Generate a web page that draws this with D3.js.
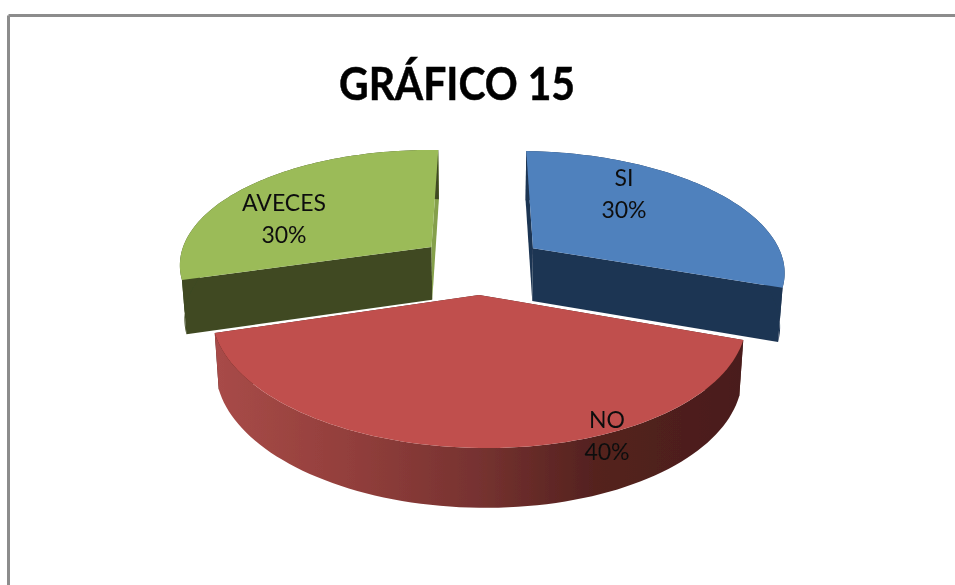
<!DOCTYPE html>
<html>
<head>
<meta charset="utf-8">
<script src="https://cdn.jsdelivr.net/npm/d3@7/dist/d3.min.js"></script>
<style>html,body{margin:0;padding:0;background:#fff}svg{display:block}</style>
</head>
<body>
<svg id="c" width="955" height="585"></svg>
<script>
const chartTitle = "GRÁFICO 15";
const categories = ["SI", "NO", "AVECES"];
const values = [30, 40, 30];
const percentLabels = ["30%", "40%", "30%"];
const topColors = ["#4F81BD", "#C0504D", "#9BBB59"];
const rimColors = ["#1F3552", "url(#redRim)", "#3F4A22"];
const faceColors = ["#1F3552", "#4A1D1B", "#3F4A22"];
const endFaceColors = ["#1F3552", "#4A1D1B", "#85A04C"];
const labelAnchors = [[624, 178], [607, 420], [284, 203]];
const sliceNudge = [3, -1, 1.5];
const paintOrder = [2, 0, 1];

const W = 955, H = 585;
const cx = 480, cy = 264.4, radiusX = 253, radiusY = 117.5, persp = 0.16, depth = 53.5, taper = 0.015, explode = 0.25, tilt = 0.013;

const svg = d3.select("#c");
const defs = svg.append("defs");
const grad = defs.append("linearGradient").attr("id", "redRim")
  .attr("gradientUnits", "userSpaceOnUse").attr("x1", 215).attr("x2", 742).attr("y1", 0).attr("y2", 0);
[[0, "#A84B48"], [0.25, "#933F3C"], [0.5, "#763230"], [0.72, "#54221F"], [1, "#4A1D1B"]]
  .forEach(([o, c]) => grad.append("stop").attr("offset", o).attr("stop-color", c));
defs.append("filter").attr("id", "soft").append("feGaussianBlur").attr("stdDeviation", 0.5);

// window frame: only the top and left edges are in view
const frame = svg.append("g").attr("stroke", "#8C8C8C").attr("stroke-width", 3).attr("filter", "url(#soft)");
frame.append("line").attr("x1", 8.5).attr("x2", W).attr("y1", 15.5).attr("y2", 15.5);
frame.append("line").attr("x1", 8.5).attr("x2", 8.5).attr("y1", 15.5).attr("y2", H);

const pie = d3.pie().sort(null).value(d => d);
const arcs = pie(values);

function project(u, v, h, nudge) {
  const s = 1 / (1 - persp * v);
  const x = radiusX * u * s * (1 - taper * h);
  return [cx + nudge + x, cy + radiusY * v * s + depth * h * Math.sqrt(s) + tilt * x];
}
const line = d3.line();

const plot = svg.append("g").attr("filter", "url(#soft)");

paintOrder.forEach(i => {
  const a = arcs[i];
  const n = sliceNudge[i];
  const mid = (a.startAngle + a.endAngle) / 2;
  const ou = explode * Math.sin(mid), ov = -explode * Math.cos(mid);
  const rim = h => d3.range(0, 81).map(k => {
    const t = a.startAngle + (a.endAngle - a.startAngle) * k / 80;
    return project(ou + Math.sin(t), ov - Math.cos(t), h, n);
  });
  const apex = h => project(ou, ov, h, n);
  const top = rim(0), bottom = rim(1);
  const g = plot.append("g");
  // start and end cut faces
  g.append("path").attr("fill", faceColors[i])
    .attr("d", line([apex(0), top[0], bottom[0], apex(1)]) + "Z");
  g.append("path").attr("fill", endFaceColors[i])
    .attr("d", line([apex(0), top[80], bottom[80], apex(1)]) + "Z");
  // outer rim
  g.append("path").attr("fill", rimColors[i])
    .attr("d", line(top.concat(bottom.slice().reverse())) + "Z");
  // top surface
  g.append("path").attr("fill", topColors[i])
    .attr("d", line([apex(0)].concat(top)) + "Z");
});

const text = svg.append("g").attr("font-family", "Lato, 'Open Sans', sans-serif").attr("fill", "#111").attr("filter", "url(#soft)");
text.append("text").text(chartTitle)
  .attr("x", 457).attr("y", 100).attr("text-anchor", "middle")
  .attr("font-size", 45).attr("font-weight", 700).attr("fill", "#000")
  .attr("stroke", "#000").attr("stroke-width", 0.5)
  .attr("textLength", 236).attr("lengthAdjust", "spacingAndGlyphs");
categories.forEach((c, i) => {
  const [x, y] = labelAnchors[i];
  text.append("text").text(c).attr("x", x).attr("y", y).attr("dy", 8)
    .attr("text-anchor", "middle").attr("font-size", 23);
  text.append("text").text(percentLabels[i]).attr("x", x).attr("y", y + 32).attr("dy", 8)
    .attr("text-anchor", "middle").attr("font-size", 23);
});
</script>
</body>
</html>
